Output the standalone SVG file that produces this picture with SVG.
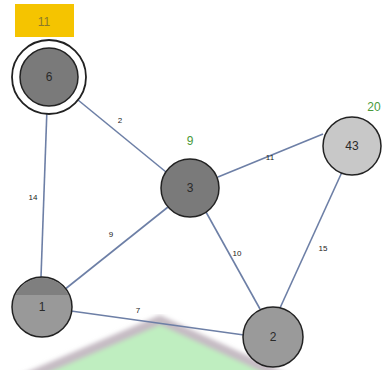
<svg xmlns="http://www.w3.org/2000/svg" width="382" height="370" viewBox="0 0 382 370">
<style>
.edge{stroke:#6d7fa6;stroke-width:1.6;fill:none}
.elab{font-family:"Liberation Sans",Arial,sans-serif;font-size:8px;fill:#222;text-anchor:middle}
.node{stroke:#222;stroke-width:1.5}
.nlab{font-family:"Liberation Sans",Arial,sans-serif;font-size:12px;fill:#2a2a2a;text-anchor:middle}
.glab{font-family:"Liberation Sans",Arial,sans-serif;font-size:12px;fill:#4a9a3a;text-anchor:middle}
</style>
<defs>
<filter id="blur" x="-10%" y="-10%" width="120%" height="120%"><feGaussianBlur stdDeviation="2"/></filter>
<clipPath id="cap1"><rect x="0" y="270" width="90" height="25"/></clipPath>
</defs>
<rect width="382" height="370" fill="#fff"/>
<g id="bgshape" filter="url(#blur)">
<polygon points="160,320 20,380 290,380" fill="#bfeec0" stroke="#c6bcc4" stroke-width="9" stroke-linejoin="round"/>
</g>
<g id="connectors">
<line class="edge" x1="47" y1="108" x2="41" y2="277"/>
<line class="edge" x1="78" y1="100" x2="166" y2="172"/>
<line class="edge" x1="64" y1="290" x2="168" y2="207"/>
<line class="edge" x1="218" y1="177" x2="323" y2="134"/>
<line class="edge" x1="206" y1="212" x2="260" y2="309"/>
<line class="edge" x1="342" y1="172" x2="280" y2="308"/>
<line class="edge" x1="71" y1="311" x2="244" y2="335"/>
<text class="elab" x="120" y="123">2</text>
<text class="elab" x="33" y="200">14</text>
<text class="elab" x="111" y="237">9</text>
<text class="elab" x="270" y="160">11</text>
<text class="elab" x="237" y="256">10</text>
<text class="elab" x="323" y="251">15</text>
<text class="elab" x="138" y="313">7</text>
</g>
<g id="label11">
<rect x="15" y="4" width="59" height="33" fill="#f5c400"/>
<text x="44" y="26" font-family="Liberation Sans,Arial,sans-serif" font-size="12" fill="#8a7a2a" text-anchor="middle">11</text>
</g>
<g id="node6">
<circle cx="49" cy="77" r="37" fill="#fff" stroke="#222" stroke-width="1.8"/>
<circle class="node" cx="49" cy="77" r="29" fill="#7a7a7a"/>
<text class="nlab" x="49" y="81">6</text>
</g>
<g id="node3">
<circle class="node" cx="190" cy="188" r="29" fill="#7a7a7a"/>
<text class="nlab" x="190" y="192">3</text>
<text class="glab" x="190" y="145">9</text>
</g>
<g id="node43">
<circle class="node" cx="352" cy="146" r="29" fill="#c8c8c8"/>
<text class="nlab" x="352" y="150">43</text>
<text class="glab" x="374" y="111">20</text>
</g>
<g id="node1">
<circle class="node" cx="42" cy="307" r="30" fill="#999"/>
<circle cx="42" cy="307" r="29" fill="#7f7f7f" clip-path="url(#cap1)"/>
<text class="nlab" x="42" y="311">1</text>
</g>
<g id="node2">
<circle class="node" cx="273" cy="337" r="30" fill="#9a9a9a"/>
<text class="nlab" x="273" y="341">2</text>
</g>
</svg>
